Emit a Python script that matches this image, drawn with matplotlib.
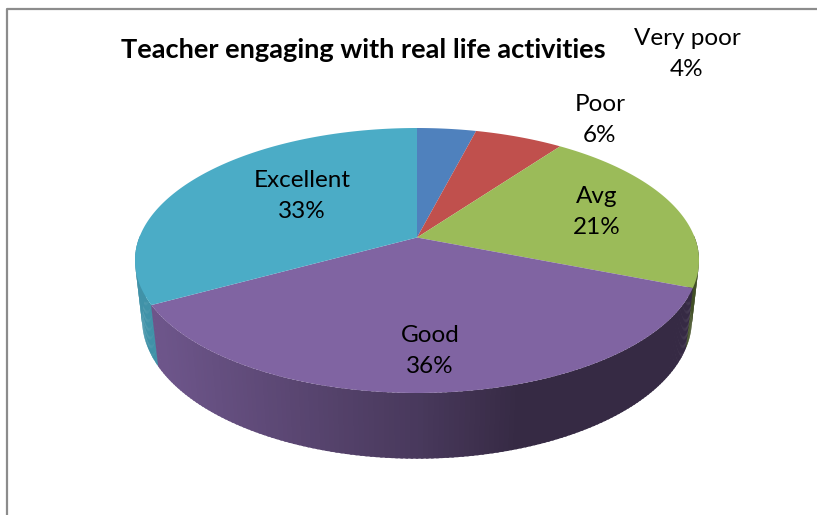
import numpy as np
import matplotlib
matplotlib.use("Agg")
import matplotlib.pyplot as plt

categories = ["Very poor", "Poor", "Avg", "Good", "Excellent"]
shares = [4, 6, 21, 36, 33]
title = "Teacher engaging with real life activities"

colors = ["#4F81BD", "#C0504D", "#9BBB59", "#8064A2", "#4BACC6"]
label_pos = [(687, 54), (600, 120), (597, 212), (430, 351), (302, 196)]

# pie placement in pixels, fitted by eye against the picture
CX, CY = 417, 237.5
RX, RY = 277.7, 128.5
TILT = 0.1736      # perspective shrink towards the back
DROP = 59.8        # wall height
SHRINK = 0.025     # extra shrink at the bottom rim


def project(theta, bottom=False):
    """Map clockwise-from-top angle on the pie to pixel coords."""
    u, v = np.sin(theta), np.cos(theta)
    w = 1 + TILT * v + (SHRINK if bottom else 0)
    z = DROP if bottom else 0
    return CX + RX * u / w, CY + (z - RY * v) / w


def wall_shade(x):
    """Walls get darker from left to right."""
    frac = (x - 135) / 564
    return np.interp(frac, [0.0, 0.05, 0.35, 0.5, 0.68, 1.0],
                     [0.85, 0.85, 0.66, 0.57, 0.42, 0.42])


fig = plt.figure(figsize=(8.17, 5.15), dpi=100, facecolor="white")
ax = fig.add_axes([0, 0, 1, 1])
ax.set_xlim(0, 817)
ax.set_ylim(515, 0)
ax.axis("off")

# outer chart frame, runs off the right and bottom of the crop
ax.plot([7, 7, 817], [515, 8.5, 8.5], color="#8c8c8c", linewidth=1.6, zorder=1)

edges = np.cumsum([0] + shares) / sum(shares) * 2 * np.pi

# side walls, only the front part shows
quads = []
for i, col in enumerate(colors):
    n = max(int(shares[i] * 4), 8)
    steps = np.linspace(edges[i], edges[i + 1], n + 1)
    for a, b in zip(steps[:-1], steps[1:]):
        if np.cos((a + b) / 2) < 0.02:
            quads.append((a, b, col))
quads.sort(key=lambda q: -np.cos((q[0] + q[1]) / 2))

for a, b, col in quads:
    # overlap neighbours a little so no seams show
    t = np.linspace(a - 0.004, b + 0.004, 4)
    xt, yt = project(t)
    xb, yb = project(t[::-1], bottom=True)
    shade = wall_shade(xt.mean())
    face = np.array(matplotlib.colors.to_rgb(col)) * shade
    ax.fill(np.r_[xt, xb], np.r_[yt, yb], color=face, linewidth=0, zorder=2)

# top faces
for i, col in enumerate(colors):
    t = np.linspace(edges[i], edges[i + 1], 120)
    x, y = project(t)
    ax.fill(np.r_[CX, x], np.r_[CY, y], color=col, linewidth=0, zorder=3)

for name, val, (px, py) in zip(categories, shares, label_pos):
    ax.text(px, py, f"{name}\n{val}%", ha="center", va="center",
            fontsize=17.5, family="Lato", color="black", linespacing=1.55, zorder=4)

ax.text(363, 50, title, ha="center", va="center", fontsize=19.6,
        family="Lato", fontweight="bold", color="black", zorder=4)

fig.savefig("out.png", dpi=100)
